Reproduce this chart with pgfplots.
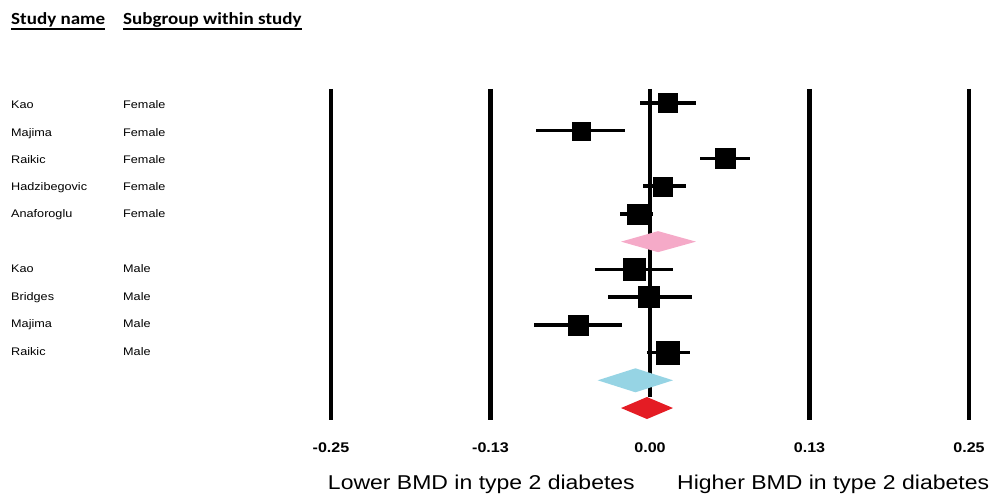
\documentclass[border=0pt]{standalone}
\usepackage{fontspec}
\setmainfont{Liberation Sans}[FakeStretch=1.15]
\newfontfamily\hdrfont{Carlito}[FakeStretch=1.12]
\usepackage{pgfplots}
\pgfplotsset{compat=1.18}
\usepackage{pgfplotstable}
\definecolor{pinkd}{RGB}{245,170,200}
\definecolor{blued}{RGB}{150,212,228}
\definecolor{redd}{RGB}{228,28,36}

\pgfplotstableread{
r x em ep
0 0.0141 0.0219 0.0219
1 -0.0540 0.0350 0.0344
2 0.0588 0.0198 0.0192
3 0.0102 0.0157 0.0178
4 -0.0102 0.0133 0.0126
6 -0.0125 0.0305 0.0305
7 -0.0008 0.0322 0.0338
8 -0.0560 0.0350 0.0340
9 0.0140 0.0164 0.0170
}\studies

\begin{document}
\begin{tikzpicture}
\begin{axis}[
  at={(0,0)}, anchor=south west,
  scale only axis, width=999bp, height=500bp,
  xmin=-0.5094, xmax=0.27351,
  ymin=-14.3166, ymax=3.7144,
  axis line style={draw=none}, tick style={draw=none},
  ytick=\empty,
  xtick={-0.25,-0.125,0,0.125,0.25},
  xticklabels={-0.25,-0.13,0.00,0.13,0.25},
  xticklabel style={anchor=center, yshift=52bp, inner sep=0pt,
    font=\fontsize{14bp}{16bp}\selectfont\bfseries},
  clip=false,
  box/.style={only marks, mark=square*, mark options={draw=black, fill=black, line width=0.3bp}, mark size=#1},
]
% reference lines
\addplot[line width=4.5bp, black] coordinates {(-0.25,0.505) (-0.25,-11.432)};
\addplot[line width=4.5bp, black] coordinates {(-0.125,0.505) (-0.125,-11.432)};
\addplot[line width=4.5bp, black] coordinates {(0.125,0.505) (0.125,-11.432)};
\addplot[line width=4.5bp, black] coordinates {(0.25,0.505) (0.25,-11.432)};
\addplot[line width=3.5bp, black] coordinates {(0,0.505) (0,-10.602)};
% confidence intervals
\addplot[only marks, mark=none, black,
  error bars/.cd, x dir=both, x explicit, error mark=none,
  error bar style={line width=3.5bp, black}]
  table[x=x, y expr=-\thisrow{r}, x error minus=em, x error plus=ep]{\studies};
% boxes (point estimates, size ~ weight)
\addplot[box=9.5bp]  coordinates {(0.0141,0)};
\addplot[box=9bp]    coordinates {(-0.0540,-1)};
\addplot[box=10bp]   coordinates {(0.0588,-2)};
\addplot[box=9.5bp]  coordinates {(0.0102,-3)};
\addplot[box=10bp]   coordinates {(-0.0102,-4)};
\addplot[box=11bp]   coordinates {(-0.0125,-6)};
\addplot[box=10.5bp] coordinates {(-0.0008,-7)};
\addplot[box=10bp]   coordinates {(-0.0560,-8)};
\addplot[box=11.5bp] coordinates {(0.0140,-9)};
% summary diamonds
\addplot[fill=pinkd, draw=none] coordinates {(-0.0227,-5) (0.0063,-4.621) (0.036,-5) (0.0063,-5.379)} -- cycle;
\addplot[fill=blued, draw=none] coordinates {(-0.041,-10) (-0.0114,-9.567) (0.018,-10) (-0.0114,-10.433)} -- cycle;
\addplot[fill=redd, draw=none] coordinates {(-0.0227,-11) (-0.0024,-10.603) (0.018,-11) (-0.0024,-11.397)} -- cycle;
\end{axis}

% headers
\node[anchor=base west, inner sep=0pt, font=\hdrfont\bfseries\fontsize{17bp}{20bp}\selectfont] (h1) at (11bp,475bp) {Study name};
\node[anchor=base west, inner sep=0pt, font=\hdrfont\bfseries\fontsize{17bp}{20bp}\selectfont] (h2) at (123bp,475bp) {Subgroup within study};
\draw[line width=2bp] ([yshift=-4.5bp]h1.base west) -- ([yshift=-4.5bp]h1.base east);
\draw[line width=2bp] ([yshift=-4.5bp]h2.base west) -- ([yshift=-4.5bp]h2.base east);

% row labels
\begin{scope}[every node/.style={anchor=base west, inner sep=0pt, font=\fontsize{11bp}{13bp}\selectfont}]
\node at (11bp,391bp) {Kao};          \node at (123bp,391bp) {Female};
\node at (11bp,363bp) {Majima};       \node at (123bp,363bp) {Female};
\node at (11bp,336bp) {Raikic};       \node at (123bp,336bp) {Female};
\node at (11bp,309bp) {Hadzibegovic}; \node at (123bp,309bp) {Female};
\node at (11bp,282bp) {Anaforoglu};   \node at (123bp,282bp) {Female};
\node at (11bp,227bp) {Kao};          \node at (123bp,227bp) {Male};
\node at (11bp,199bp) {Bridges};      \node at (123bp,199bp) {Male};
\node at (11bp,172bp) {Majima};       \node at (123bp,172bp) {Male};
\node at (11bp,144bp) {Raikic};       \node at (123bp,144bp) {Male};
\end{scope}

% direction labels
\node[anchor=base east, inner sep=0pt, font=\fontsize{20bp}{24bp}\selectfont] at (635bp,11bp) {Lower BMD in type 2 diabetes};
\node[anchor=base west, inner sep=0pt, font=\fontsize{20bp}{24bp}\selectfont] at (677bp,11bp) {Higher BMD in type 2 diabetes};

\pgfresetboundingbox
\path[use as bounding box] (0,0) rectangle (999bp,500bp);
\end{tikzpicture}
\end{document}
